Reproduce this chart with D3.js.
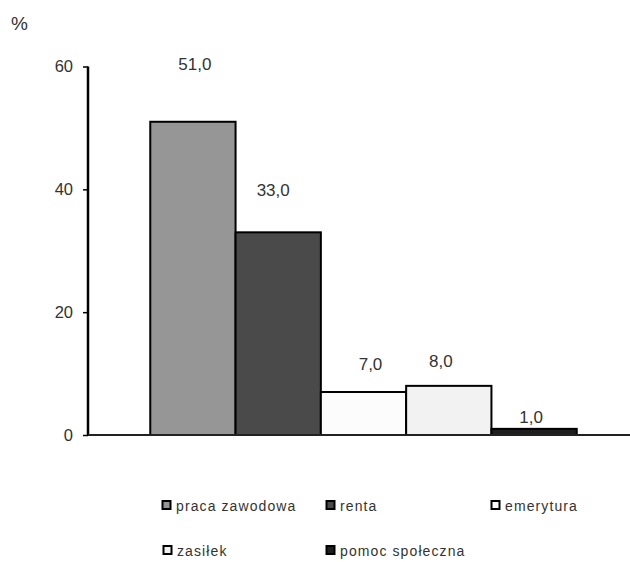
<!DOCTYPE html>
<html>
<head>
<meta charset="utf-8">
<script src="https://cdn.jsdelivr.net/npm/d3@7"></script>
<style>
  html, body { margin: 0; padding: 0; background: #fff; }
  svg { display: block; font-family: "Liberation Sans", Arial, sans-serif; }
</style>
</head>
<body>
<svg id="chart" width="630" height="562"></svg>
<script>
// Źródła utrzymania (%)
const categories = ["praca zawodowa", "renta", "emerytura", "zasiłek", "pomoc społeczna"];
const values = [51.0, 33.0, 7.0, 8.0, 1.0];
const yTicks = [0, 20, 40, 60];

// Fills per category
const fills = ["#969696", "#4a4a4a", "#fcfcfc", "#f2f2f2", "#1e1e1e"];

// Value-label placement: horizontal shift and lift above bar top (px)
const labelShift = [2, -5, 7, -8, -3];
const labelLift = [52, 36, 22, 19, 6];

const svg = d3.select("#chart");
const fmt = v => d3.format(".1f")(v).replace(".", ",");

const plot = { left: 88, right: 639, top: 66.5, bottom: 435 };

const x = d3.scaleBand()
  .domain(categories)
  .range([plot.left, plot.right])
  .paddingInner(0)
  .paddingOuter(0.73);

const y = d3.scaleLinear()
  .domain([0, 60])
  .range([plot.bottom, plot.top]);

// "%" unit label
svg.append("text")
  .attr("x", 11).attr("y", 29.5)
  .attr("font-size", 19)
  .attr("fill", "#333")
  .text("%");

// Bars
svg.append("g").selectAll("rect")
  .data(categories)
  .join("rect")
  .attr("x", d => x(d))
  .attr("y", (d, i) => y(values[i]))
  .attr("width", x.bandwidth())
  .attr("height", (d, i) => y(0) - y(values[i]))
  .attr("fill", (d, i) => fills[i])
  .attr("stroke", "#000")
  .attr("stroke-width", 2);

// Y axis
const yAxis = d3.axisLeft(y).tickValues(yTicks).tickSize(5).tickPadding(10).tickFormat(d3.format("d"));
const gy = svg.append("g")
  .attr("transform", `translate(${plot.left},0)`)
  .call(yAxis);
gy.select(".domain").attr("stroke", "#000").attr("stroke-width", 2.5)
  .attr("d", `M0,${plot.top}V${plot.bottom}`);
gy.selectAll(".tick line").attr("stroke", "#000").attr("stroke-width", 1.5);
gy.selectAll(".tick text")
  .attr("font-size", 16.5)
  .attr("font-family", "Liberation Sans, Arial, sans-serif")
  .attr("fill", "#333");

// Baseline
svg.append("line")
  .attr("x1", plot.left).attr("x2", 630)
  .attr("y1", y(0)).attr("y2", y(0))
  .attr("stroke", "#222").attr("stroke-width", 2);

// Value labels
svg.append("g").selectAll("text")
  .data(categories)
  .join("text")
  .attr("x", (d, i) => x(d) + x.bandwidth() / 2 + labelShift[i])
  .attr("y", (d, i) => y(values[i]) - labelLift[i])
  .attr("text-anchor", "middle")
  .attr("font-size", 17)
  .attr("fill", "#333")
  .text((d, i) => fmt(values[i]));

// Legend
const legendPos = [
  [162, 511], [326, 511], [491, 511],
  [163, 556], [326, 556]
];
const legend = svg.append("g").selectAll("g")
  .data(categories)
  .join("g")
  .attr("transform", (d, i) => `translate(${legendPos[i][0]},${legendPos[i][1]})`);
legend.append("rect")
  .attr("x", 0.5).attr("y", -10)
  .attr("width", 8).attr("height", 8)
  .attr("fill", (d, i) => fills[i])
  .attr("stroke", "#000")
  .attr("stroke-width", 2);
legend.append("text")
  .attr("x", 14).attr("y", 0)
  .attr("font-size", 14)
  .attr("letter-spacing", 1.1)
  .attr("fill", "#333")
  .text(d => d);
</script>
</body>
</html>
